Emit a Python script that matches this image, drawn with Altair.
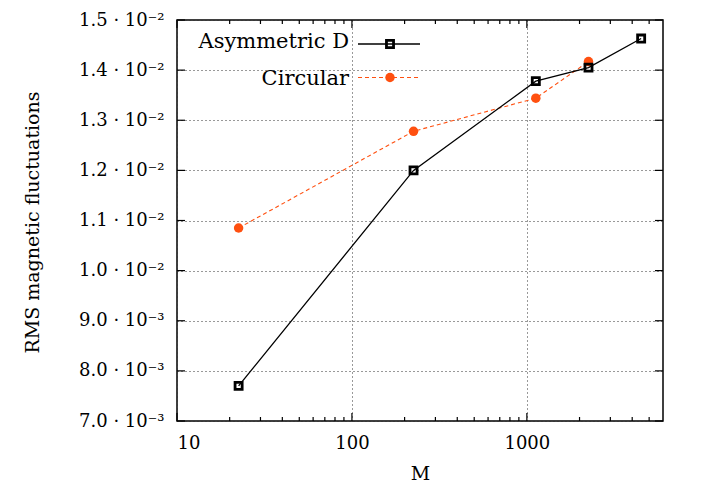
import altair as alt
import pandas as pd

# ---- data ----
m_asym = [22.5, 225, 1125, 2250, 4500]
rms_asym = [0.0077, 0.0120, 0.01378, 0.01405, 0.01463]
m_circ = [22.5, 225, 1125, 2250]
rms_circ = [0.01085, 0.01278, 0.01344, 0.01417]

legend_labels = ["Asymmetric D", "Circular"]

x_major = [10, 100, 1000]
x_minor = [20, 30, 40, 50, 60, 70, 80, 90,
           200, 300, 400, 500, 600, 700, 800, 900,
           2000, 3000, 4000, 5000]
y_major = [0.007, 0.008, 0.009, 0.010, 0.011, 0.012, 0.013, 0.014, 0.015]

FONT = "DejaVu Serif"
W, H = 486, 401
ORANGE = "#ff5010"

asym = pd.DataFrame({"M": m_asym, "RMS": rms_asym})
circ = pd.DataFrame({"M": m_circ, "RMS": rms_circ})

xscale = alt.Scale(type="log", domain=[10, 6000], nice=False)
yscale = alt.Scale(domain=[0.007, 0.015], nice=False, zero=False)

xaxis = alt.Axis(values=x_major, format="d", grid=True, gridDash=[1, 3],
                 gridColor="#333", gridWidth=1, ticks=False, domain=False,
                 labelFont=FONT, labelFontSize=18, labelColor="black",
                 labelPadding=13, title="M", titleFont=FONT,
                 titleFontSize=19, titleFontWeight="normal",
                 titleColor="black", titleBaseline="alphabetic",
                 titleY=58, titleX=W / 2)
yaxis = alt.Axis(values=y_major, grid=True, gridDash=[1, 3],
                 gridColor="#333", gridWidth=1, ticks=False, domain=False,
                 labelExpr="datum.value > 0.0095 ? format(datum.value*100, '.1f') + ' · 10⁻²' : format(datum.value*1000, '.1f') + ' · 10⁻³'",
                 labelFont=FONT, labelFontSize=18, labelColor="black",
                 labelPadding=13, title="RMS magnetic fluctuations",
                 titleFont=FONT, titleFontSize=19, titleFontWeight="normal",
                 titleColor="black", titleBaseline="alphabetic",
                 titleX=-139, titleY=202, titleAngle=270)

X = lambda: alt.X("M:Q", scale=xscale, axis=xaxis)
Y = lambda: alt.Y("RMS:Q", scale=yscale, axis=yaxis)

line_asym = alt.Chart(asym).mark_line(color="black", strokeWidth=1.3).encode(x=X(), y=Y())
pts_asym = alt.Chart(asym).mark_point(shape="square", filled=False, color="black",
                                      strokeWidth=2.8, size=50, opacity=1).encode(x=X(), y=Y())
line_circ = alt.Chart(circ).mark_line(color=ORANGE, strokeWidth=1.1,
                                      strokeDash=[4, 3]).encode(x=X(), y=Y())
pts_circ = alt.Chart(circ).mark_point(shape="circle", filled=True, color=ORANGE,
                                      size=90, opacity=1).encode(x=X(), y=Y())

# inward ticks on all four sides
xt_major = pd.DataFrame({"M": x_major})
xt_minor = pd.DataFrame({"M": x_minor})
yt_major = pd.DataFrame({"RMS": y_major})

def xticks(df, length):
    b = alt.Chart(df).mark_rule(color="black", strokeWidth=1.2).encode(
        x=X(), y=alt.value(H), y2=alt.value(H - length))
    t = alt.Chart(df).mark_rule(color="black", strokeWidth=1.2).encode(
        x=X(), y=alt.value(0), y2=alt.value(length))
    return b + t

yt_l = alt.Chart(yt_major).mark_rule(color="black", strokeWidth=1.2).encode(
    y=Y(), x=alt.value(0), x2=alt.value(8))
yt_r = alt.Chart(yt_major).mark_rule(color="black", strokeWidth=1.2).encode(
    y=Y(), x=alt.value(W), x2=alt.value(W - 8))

# legend (top-left inside)
leg = pd.DataFrame({"label": legend_labels})
leg1 = leg.iloc[[0]]
leg2 = leg.iloc[[1]]
lt1 = alt.Chart(leg1).mark_text(align="right", baseline="alphabetic", font=FONT,
                                fontSize=21, color="black").encode(
    text="label:N", x=alt.value(172), y=alt.value(28))
lt2 = alt.Chart(leg2).mark_text(align="right", baseline="alphabetic", font=FONT,
                                fontSize=21, color="black").encode(
    text="label:N", x=alt.value(172), y=alt.value(65))
ll1 = alt.Chart(leg1).mark_rule(color="black", strokeWidth=1.3).encode(
    x=alt.value(181), x2=alt.value(243), y=alt.value(24))
lp1 = alt.Chart(leg1).mark_point(shape="square", filled=False, color="black",
                                 strokeWidth=2.8, size=50, opacity=1).encode(
    x=alt.value(213), y=alt.value(24))
ll2 = alt.Chart(leg2).mark_rule(color=ORANGE, strokeWidth=1.1, strokeDash=[4, 3]).encode(
    x=alt.value(181), x2=alt.value(243), y=alt.value(57.5))
lp2 = alt.Chart(leg2).mark_point(shape="circle", filled=True, color=ORANGE,
                                 size=90, opacity=1).encode(
    x=alt.value(213), y=alt.value(57.5))

chart = alt.layer(
    line_circ, line_asym, pts_circ, pts_asym,
    xticks(xt_major, 8), xticks(xt_minor, 4), yt_l, yt_r,
    lt1, lt2, ll1, lp1, ll2, lp2,
).properties(
    width=W, height=H,
    autosize=alt.AutoSizeParams(type="none"),
    padding={"left": 177, "top": 20, "right": 38, "bottom": 62},
    background="white",
).configure_view(stroke="black", strokeWidth=1.5)

chart.save("out.html", embed_options={"renderer": "svg", "actions": False})
